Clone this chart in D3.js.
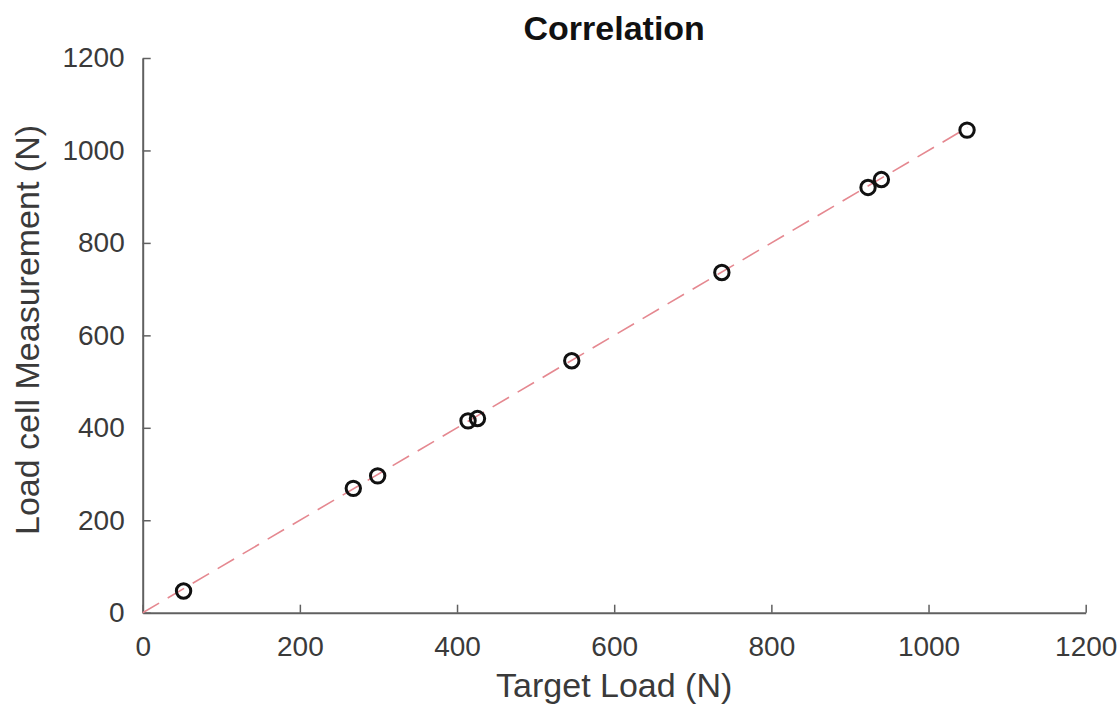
<!DOCTYPE html>
<html>
<head>
<meta charset="utf-8">
<script src="https://cdn.jsdelivr.net/npm/d3@7"></script>
<style>
  body { margin: 0; background: #fff; }
  text { font-family: "Liberation Sans", Arial, sans-serif; }
</style>
</head>
<body>
<svg id="chart" width="1120" height="710"></svg>
<script>
// data
let targetLoad = [52, 268, 299, 414, 426, 546, 737, 923, 940, 1049];
let measuredLoad = [47, 269, 296, 415, 420, 545, 736, 920, 937, 1044];
let xTicks = [0, 200, 400, 600, 800, 1000, 1200];
let yTicks = [0, 200, 400, 600, 800, 1000, 1200];
let fitLine = [0, 1050];

let svg = d3.select("#chart");

let margin = {left: 142.7, right: 1120 - 1085.7, top: 58, bottom: 710 - 612.7};
let w = 1120 - margin.left - margin.right;
let h = 710 - margin.top - margin.bottom;

let x = d3.scaleLinear().domain([0, 1200]).range([0, w]);
let y = d3.scaleLinear().domain([0, 1200]).range([h, 0]);

let g = svg.append("g").attr("transform", `translate(${margin.left},${margin.top})`);

// axes (ticks point inward like matlab)
let xAxis = g.append("g")
    .attr("transform", `translate(0,${h})`)
    .call(d3.axisBottom(x).tickValues(xTicks).tickFormat(d3.format("d"))
        .tickSizeInner(-8).tickSizeOuter(0).tickPadding(23));
let yAxis = g.append("g")
    .call(d3.axisLeft(y).tickValues(yTicks).tickFormat(d3.format("d"))
        .tickSizeInner(-8).tickSizeOuter(0).tickPadding(18));

[xAxis, yAxis].forEach(a => {
    a.select(".domain").attr("stroke", "#606060").attr("stroke-width", 2);
    a.selectAll(".tick line").attr("stroke", "#606060").attr("stroke-width", 1.5);
    a.selectAll(".tick text")
        .attr("fill", "#3a3a3a")
        .style("font-size", "28px")
        .style("font-family", "'Liberation Sans', Arial, sans-serif");
});
xAxis.selectAll(".tick text").attr("dy", "0.71em");

// dashed fit line
g.append("line")
    .attr("x1", x(fitLine[0])).attr("y1", y(fitLine[0]))
    .attr("x2", x(fitLine[1])).attr("y2", y(fitLine[1]))
    .attr("stroke", "#e58890")
    .attr("stroke-width", 1.6)
    .attr("stroke-dasharray", "19,10");

// points
g.selectAll("circle")
    .data(targetLoad)
    .enter()
    .append("circle")
    .attr("cx", d => x(d))
    .attr("cy", (d, i) => y(measuredLoad[i]))
    .attr("r", 7.2)
    .attr("fill", "none")
    .attr("stroke", "#111")
    .attr("stroke-width", 3);

// title and labels
svg.append("text")
    .attr("x", margin.left + w / 2)
    .attr("y", 39.5)
    .attr("text-anchor", "middle")
    .attr("fill", "#111")
    .style("font-size", "34px")
    .style("font-weight", "bold")
    .text("Correlation");

svg.append("text")
    .attr("x", margin.left + w / 2)
    .attr("y", 697)
    .attr("text-anchor", "middle")
    .attr("fill", "#3a3a3a")
    .style("font-size", "34px")
    .text("Target Load (N)");

svg.append("text")
    .attr("transform", `translate(39,330) rotate(-90)`)
    .attr("text-anchor", "middle")
    .attr("fill", "#3a3a3a")
    .style("font-size", "34px")
    .text("Load cell Measurement (N)");
</script>
</body>
</html>
